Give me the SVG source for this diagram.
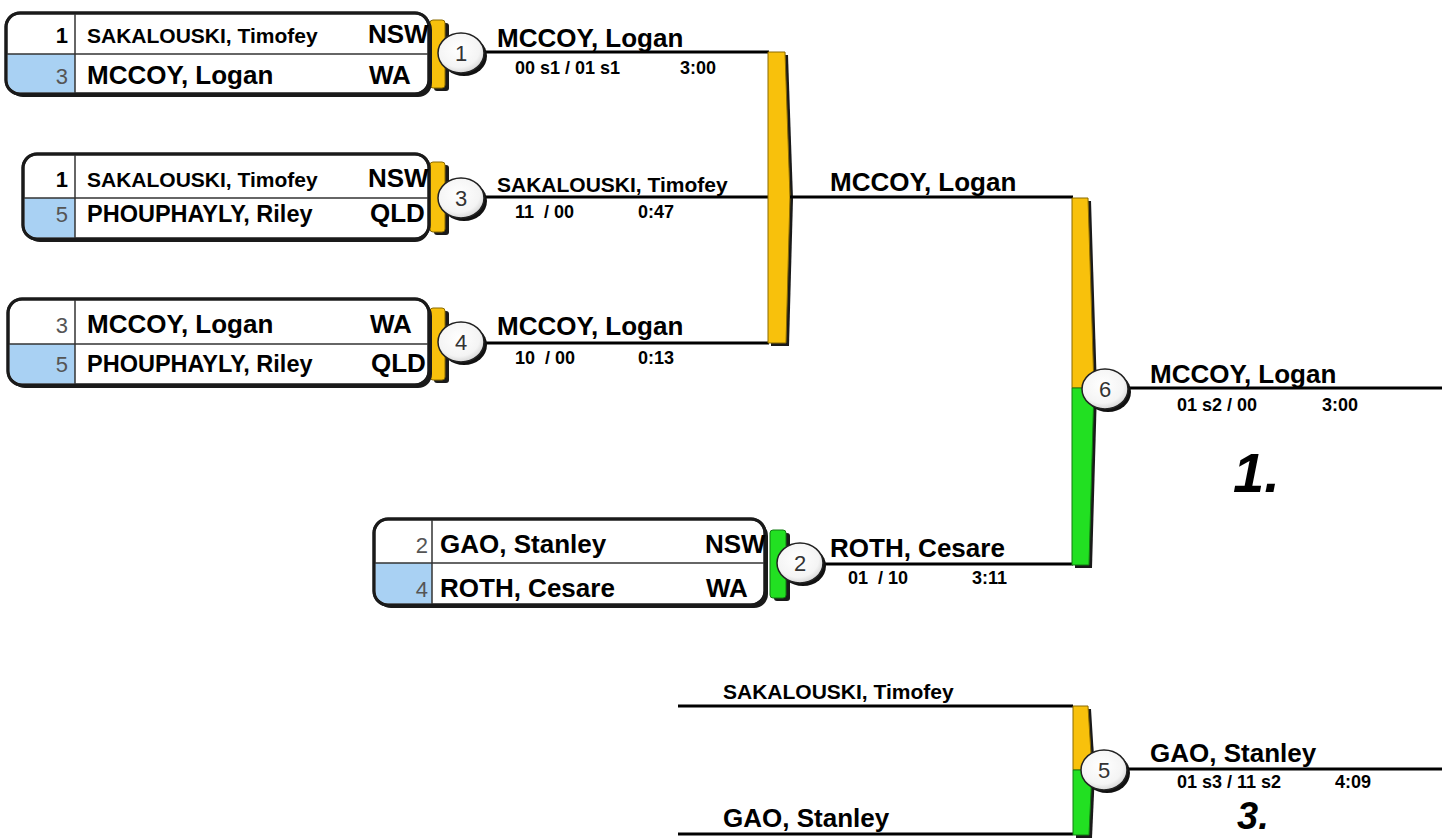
<svg xmlns="http://www.w3.org/2000/svg" width="1450" height="838" viewBox="0 0 1450 838">
<defs>
<radialGradient id="cg" cx="45%" cy="40%" r="65%">
<stop offset="0" stop-color="#ffffff"/>
<stop offset="0.7" stop-color="#f4f4f4"/>
<stop offset="1" stop-color="#cfcfcf"/>
</radialGradient>
<style>
text{font-family:"Liberation Sans",Arial,sans-serif;fill:#000;white-space:pre}
.nm{font-weight:bold;font-size:26px}
.nms{font-weight:bold;font-size:21px}
.nmm{font-weight:bold;font-size:23.5px}
.ct{font-weight:bold;font-size:26px}
.sw{font-weight:bold;font-size:22px;text-anchor:end}
.sd{font-size:22px;fill:#555;text-anchor:end}
.sc{font-weight:bold;font-size:18px}
.num{font-size:22px;fill:#333;text-anchor:middle}
.pl{font-weight:bold;font-style:italic;font-size:56px}
.pl3{font-weight:bold;font-style:italic;font-size:38px}
.frame{fill:#fff;stroke:#1a1a1a;stroke-width:3}
.shadow{fill:#1a1a1a}
.blue{fill:#a9d1f3}
.div{stroke:#333;stroke-width:1.5;fill:none}
.ln{stroke:#000;stroke-width:3;fill:none}
.yel{fill:#f8c10c;stroke:#8a6a00;stroke-width:1}
.grn{fill:#22e022;stroke:#127a12;stroke-width:1}
.cs{fill:#111}
.cw{fill:url(#cg);stroke:#222;stroke-width:1.5}
</style>
</defs>
<rect width="1450" height="838" fill="#fff"/>

<g id="connectors">
<line class="ln" x1="484" y1="52" x2="769" y2="52"/>
<line class="ln" x1="484" y1="197" x2="769" y2="197"/>
<line class="ln" x1="484" y1="343" x2="769" y2="343"/>
<polygon class="shadow" points="771,55 788,55 793,199 789,346 771,346"/>
<polygon class="yel" points="768,52 785,52 790,197 786,343 768,343"/>
<line class="ln" x1="790" y1="197" x2="1073" y2="197"/>
<line class="ln" x1="822" y1="564" x2="1073" y2="564"/>
<polygon class="shadow" points="1075,201 1091,201 1097,390 1092,568 1075,568"/>
<polygon class="yel" points="1072,198 1088,198 1094,388 1072,388"/>
<polygon class="grn" points="1072,388 1094,388 1089,565 1072,565"/>
<line class="ln" x1="1128" y1="388" x2="1442" y2="388"/>
<line class="ln" x1="678" y1="706" x2="1073" y2="706"/>
<line class="ln" x1="678" y1="834" x2="1073" y2="834"/>
<polygon class="shadow" points="1076,709 1091,709 1095,772 1092,838 1076,838"/>
<polygon class="yel" points="1073,706 1088,706 1092,770 1073,770"/>
<polygon class="grn" points="1073,770 1092,770 1089,835 1073,835"/>
<line class="ln" x1="1127" y1="769" x2="1442" y2="769"/>
</g>

<g id="match1">
<rect class="shadow" x="434" y="23" width="15" height="68" rx="3"/>
<rect class="yel" x="430" y="20" width="15" height="68" rx="3"/>
<rect class="shadow" x="9" y="16" width="423" height="81" rx="14"/>
<rect class="frame" x="6" y="13" width="423" height="81" rx="14"/>
<path class="blue" d="M7.5,54 H75 V92.5 H20 A12.5,12.5 0 0 1 7.5,80 Z"/>
<rect x="6" y="13" width="423" height="81" rx="14" fill="none" stroke="#1a1a1a" stroke-width="3"/>
<line class="div" x1="7" y1="54" x2="428" y2="54"/>
<line class="div" x1="75" y1="14" x2="75" y2="93"/>
<text class="sw" x="68" y="43">1</text>
<text class="sd" x="68" y="84">3</text>
<text class="nms" x="87" y="43">SAKALOUSKI, Timofey</text>
<text class="nm" x="87" y="84">MCCOY, Logan</text>
<text class="ct" x="368" y="43">NSW</text>
<text class="ct" x="369" y="84">WA</text>
<ellipse class="cs" cx="464" cy="56" rx="23" ry="20"/>
<ellipse class="cw" cx="461" cy="53" rx="23" ry="20"/>
<text class="num" x="461" y="61">1</text>
<text class="nm" x="497" y="47">MCCOY, Logan</text>
<text class="sc" x="515" y="74">00 s1 / 01 s1</text>
<text class="sc" x="680" y="74">3:00</text>
</g>

<g id="match3">
<rect class="shadow" x="434" y="165" width="15" height="70" rx="3"/>
<rect class="yel" x="430" y="162" width="15" height="70" rx="3"/>
<rect class="shadow" x="26" y="157" width="403" height="85" rx="14"/>
<rect class="frame" x="23" y="154" width="406" height="85" rx="14"/>
<path class="blue" d="M24.5,198 H75 V237.5 H37 A12.5,12.5 0 0 1 24.5,225 Z"/>
<rect x="23" y="154" width="406" height="85" rx="14" fill="none" stroke="#1a1a1a" stroke-width="3"/>
<line class="div" x1="24" y1="198" x2="428" y2="198"/>
<line class="div" x1="75" y1="155" x2="75" y2="238"/>
<text class="sw" x="68" y="187">1</text>
<text class="sd" x="68" y="222">5</text>
<text class="nms" x="87" y="187">SAKALOUSKI, Timofey</text>
<text class="nmm" x="87" y="222">PHOUPHAYLY, Riley</text>
<text class="ct" x="368" y="187">NSW</text>
<text class="ct" x="370" y="222">QLD</text>
<ellipse class="cs" cx="464" cy="201" rx="23" ry="20"/>
<ellipse class="cw" cx="461" cy="198" rx="23" ry="20"/>
<text class="num" x="461" y="206">3</text>
<text class="nms" x="497" y="192">SAKALOUSKI, Timofey</text>
<text class="sc" x="515" y="218">11  / 00</text>
<text class="sc" x="638" y="218">0:47</text>
</g>

<g id="match4">
<rect class="shadow" x="434" y="311" width="15" height="72" rx="3"/>
<rect class="yel" x="430" y="308" width="15" height="72" rx="3"/>
<rect class="shadow" x="11" y="302" width="421" height="86" rx="14"/>
<rect class="frame" x="8" y="299" width="421" height="86" rx="14"/>
<path class="blue" d="M9.5,344 H75 V383.5 H22 A12.5,12.5 0 0 1 9.5,371 Z"/>
<rect x="8" y="299" width="421" height="86" rx="14" fill="none" stroke="#1a1a1a" stroke-width="3"/>
<line class="div" x1="9" y1="344" x2="428" y2="344"/>
<line class="div" x1="75" y1="300" x2="75" y2="384"/>
<text class="sd" x="68" y="333">3</text>
<text class="sd" x="68" y="372">5</text>
<text class="nm" x="87" y="333">MCCOY, Logan</text>
<text class="nmm" x="87" y="372">PHOUPHAYLY, Riley</text>
<text class="ct" x="370" y="333">WA</text>
<text class="ct" x="371" y="372">QLD</text>
<ellipse class="cs" cx="464" cy="345" rx="23" ry="20"/>
<ellipse class="cw" cx="461" cy="342" rx="23" ry="20"/>
<text class="num" x="461" y="350">4</text>
<text class="nm" x="497" y="335">MCCOY, Logan</text>
<text class="sc" x="515" y="364">10  / 00</text>
<text class="sc" x="638" y="364">0:13</text>
</g>

<g id="match2">
<rect class="shadow" x="774" y="533" width="16" height="68" rx="3"/>
<rect class="grn" x="770" y="530" width="16" height="68" rx="3"/>
<rect class="shadow" x="377" y="522" width="391" height="86" rx="14"/>
<rect class="frame" x="374" y="519" width="391" height="86" rx="14"/>
<path class="blue" d="M375.5,563 H432 V603.5 H388 A12.5,12.5 0 0 1 375.5,591 Z"/>
<rect x="374" y="519" width="391" height="86" rx="14" fill="none" stroke="#1a1a1a" stroke-width="3"/>
<line class="div" x1="375" y1="563" x2="764" y2="563"/>
<line class="div" x1="432" y1="520" x2="432" y2="604"/>
<text class="sd" x="428" y="553">2</text>
<text class="sd" x="428" y="597">4</text>
<text class="nm" x="440" y="553">GAO, Stanley</text>
<text class="nm" x="440" y="597">ROTH, Cesare</text>
<text class="ct" x="705" y="553">NSW</text>
<text class="ct" x="706" y="597">WA</text>
<ellipse class="cs" cx="803" cy="566" rx="23" ry="20"/>
<ellipse class="cw" cx="800" cy="563" rx="23" ry="20"/>
<text class="num" x="800" y="571">2</text>
<text class="nm" x="830" y="557">ROTH, Cesare</text>
<text class="sc" x="848" y="584">01  / 10</text>
<text class="sc" x="972" y="584">3:11</text>
</g>

<g id="round2">
<text class="nm" x="830" y="191">MCCOY, Logan</text>
</g>

<g id="match6">
<ellipse class="cs" cx="1108" cy="392" rx="23" ry="20"/>
<ellipse class="cw" cx="1105" cy="389" rx="23" ry="20"/>
<text class="num" x="1105" y="397">6</text>
<text class="nm" x="1150" y="383">MCCOY, Logan</text>
<text class="sc" x="1177" y="411">01 s2 / 00</text>
<text class="sc" x="1322" y="411">3:00</text>
<text class="pl" x="1233" y="492">1.</text>
</g>

<g id="bronze">
<text class="nms" x="723" y="699">SAKALOUSKI, Timofey</text>
<text class="nm" x="723" y="827">GAO, Stanley</text>
</g>

<g id="match5">
<ellipse class="cs" cx="1107" cy="773" rx="23" ry="20"/>
<ellipse class="cw" cx="1104" cy="770" rx="23" ry="20"/>
<text class="num" x="1104" y="778">5</text>
<text class="nm" x="1150" y="762">GAO, Stanley</text>
<text class="sc" x="1177" y="788">01 s3 / 11 s2</text>
<text class="sc" x="1335" y="788">4:09</text>
<text class="pl3" x="1237" y="829">3.</text>
</g>
</svg>
